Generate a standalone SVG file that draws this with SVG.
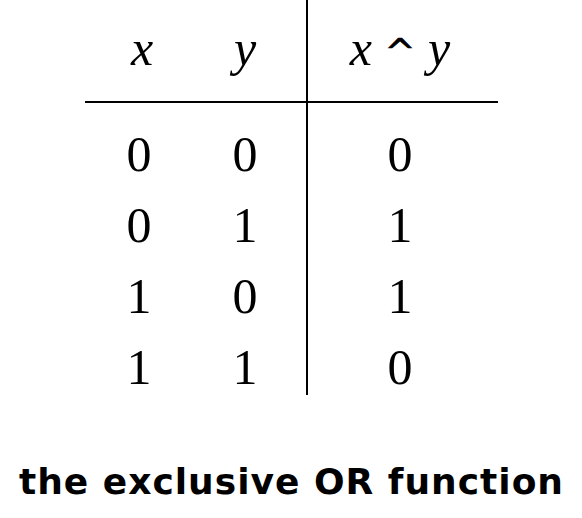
<svg xmlns="http://www.w3.org/2000/svg" width="582" height="518" viewBox="0 0 582 518">
<style>
.t{font-family:'Liberation Serif','Times New Roman',Times,serif;font-size:50px;fill:#000;text-anchor:middle}
.i{font-style:italic}
.c{font-family:'DejaVu Sans',sans-serif;font-weight:bold;font-size:36px;fill:#000}
.l{stroke:#000;stroke-width:2;fill:none}
</style>
<rect width="582" height="518" fill="#fff"/>
<g id="lines">
<line class="l" x1="307" y1="0" x2="307" y2="395"/>
<line class="l" x1="85" y1="102" x2="498" y2="102"/>
</g>
<g id="header">
<text class="t i" x="142" y="65">x</text>
<text class="t i" x="245" y="65">y</text>
<text class="t" x="400" y="65"><tspan class="i">x</tspan> <tspan font-family="'DejaVu Sans',sans-serif" font-size="37" stroke="#000" stroke-width="0.6">^</tspan> <tspan class="i">y</tspan></text>
</g>
<g id="rows">
<text class="t" x="139" y="171">0</text><text class="t" x="245" y="171">0</text><text class="t" x="400" y="171">0</text>
<text class="t" x="139" y="242">0</text><text class="t" x="245" y="242">1</text><text class="t" x="400" y="242">1</text>
<text class="t" x="139" y="313">1</text><text class="t" x="245" y="313">0</text><text class="t" x="400" y="313">1</text>
<text class="t" x="139" y="384">1</text><text class="t" x="245" y="384">1</text><text class="t" x="400" y="384">0</text>
</g>
<g id="caption">
<text class="c" x="19" y="494" textLength="544" lengthAdjust="spacing">the exclusive OR function</text>
</g>
</svg>
